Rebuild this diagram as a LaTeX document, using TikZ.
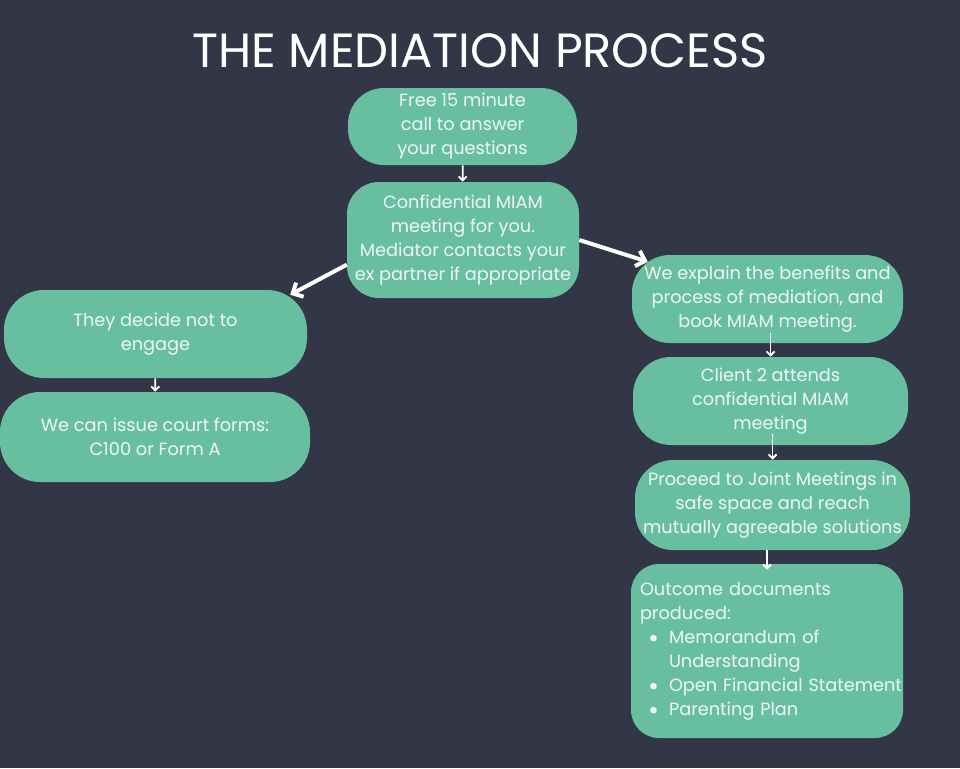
\documentclass[tikz,border=0pt]{standalone}
\usepackage{fontspec}
\setmainfont{Poppins}
\usetikzlibrary{arrows.meta, calc, positioning}
\definecolor{nen}{HTML}{323646}
\definecolor{xanh}{HTML}{67BFA0}
\definecolor{chu}{HTML}{EEF8F2}
\newdimen\pxu \pxu=0.75pt
\newcommand{\cham}{\makebox[21\pxu][l]{\raisebox{-0.4ex}{\scalebox{1.5}{\textbullet}}}}
\tikzset{
  hop/.style={fill=xanh, text=chu, align=center, inner sep=0pt, font=\fontsize{13.3}{18}\selectfont},
  muiten/.style={draw=white, line width=1.4pt, -{Straight Barb[length=3pt,width=6pt]}},
  muitenlon/.style={draw=white, line width=3pt, -{Straight Barb[length=6pt,width=12pt]}}
}

\begin{document}
\begin{tikzpicture}[x=0.75pt,y=-0.75pt]

            % Vẽ nền
            \fill[nen] (0,0) rectangle (960,768);

            % Tiêu đề
            \node[text=white, font=\fontsize{36}{40}\selectfont, anchor=base] (tieude) at (480,67) {THE MEDIATION PROCESS};

            % Các hộp ở giữa
            \node[hop, minimum width=229\pxu, minimum height=77\pxu, rounded corners=36\pxu] (goi) at (462.5,126.5) {Free 15 minute\\call to answer\\your questions};
            \node[hop, minimum width=232\pxu, minimum height=116\pxu, rounded corners=32\pxu] (miam) at (463,240) {Confidential MIAM\\meeting for you.\\Mediator contacts your\\ex partner if appropriate};

            % Nhánh bên trái
            \node[hop, minimum width=303\pxu, minimum height=88\pxu, rounded corners=40\pxu] (tuchoi) at (155.5,334) {They decide not to\\engage};
            \node[hop, minimum width=310\pxu, minimum height=90\pxu, rounded corners=40\pxu] (toaan) at (155,437) {We can issue court forms:\\C100 or Form A};

            % Nhánh bên phải
            \node[hop, minimum width=271\pxu, minimum height=88\pxu, rounded corners=38\pxu] (giaithich) at (767.5,299) {We explain the benefits and\\process of mediation, and\\book MIAM meeting.};
            \node[hop, minimum width=275\pxu, minimum height=88\pxu, rounded corners=38\pxu] (khach) at (770.5,401) {Client 2 attends\\confidential MIAM\\meeting};
            \node[hop, minimum width=275\pxu, minimum height=90\pxu, rounded corners=38\pxu] (chung) at (772.5,505) {Proceed to Joint Meetings in\\safe space and reach\\mutually agreeable solutions};
            \node[hop, align=left, text width=254\pxu, inner xsep=9\pxu, minimum height=174\pxu, rounded corners=28\pxu] (ketqua) at (767,651) {Outcome documents\\produced:\\
              \hspace*{8\pxu}\cham Memorandum of\\
              \hspace*{29\pxu}Understanding\\
              \hspace*{8\pxu}\cham \mbox{Open Financial Statement}\\
              \hspace*{8\pxu}\cham Parenting Plan};

            % Mũi tên nhỏ
            \draw[muiten] (goi) -- (miam);
            \draw[muiten] (tuchoi) -- (toaan);
            \draw[muiten, shorten <=-10\pxu] (giaithich.south -| khach.north) -- (khach.north);
            \draw[muiten, shorten <=-11\pxu] (khach.south -| chung.north) -- (chung.north);
            \draw[muiten, shorten >=-6\pxu] (chung.south -| ketqua.north) -- (ketqua.north);

            % Mũi tên lớn
            \draw[muitenlon] (miam.192) -- ($(tuchoi.north east)+(-17,5)$);
            \draw[muitenlon] (miam.east) -- ($(giaithich.north west)+(16,7)$);

            \end{tikzpicture}
\end{document}
